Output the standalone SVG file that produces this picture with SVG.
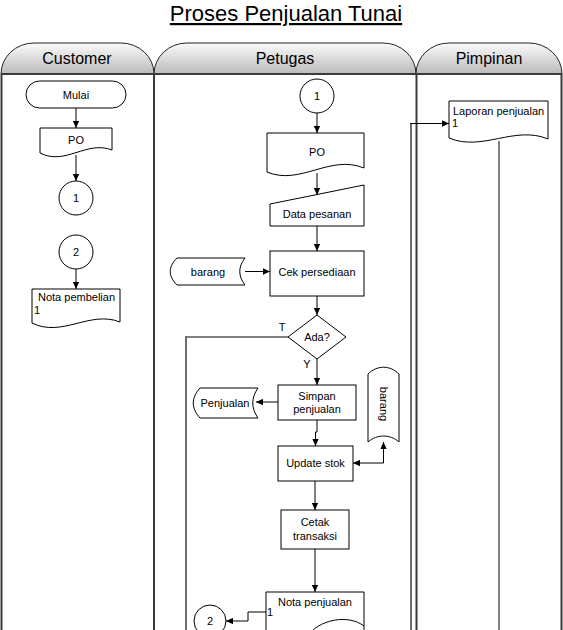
<svg xmlns="http://www.w3.org/2000/svg" width="563" height="630" viewBox="0 0 563 630">
<style>
.t{font-family:"Liberation Sans",Arial,sans-serif;font-size:11px;fill:#000}
.m{text-anchor:middle}
.h{font-family:"Liberation Sans",Arial,sans-serif;font-size:16px;fill:#000;text-anchor:middle}
.sh{fill:#fff;stroke:#000;stroke-width:1}
.c{fill:none;stroke:#000;stroke-width:1}
.long{fill:none;stroke:#6e6e6e;stroke-width:2}
.lane{fill:none;stroke:#3a3a3a;stroke-width:2}
.hd{fill:url(#g);stroke:#222;stroke-width:1}
</style>
<defs>
<linearGradient id="g" x1="0" y1="0" x2="0" y2="1">
<stop offset="0" stop-color="#fbfbfb"/>
<stop offset="1" stop-color="#bababa"/>
</linearGradient>
<marker id="a" viewBox="0 0 10 10" refX="10" refY="5" markerWidth="8" markerHeight="7" markerUnits="userSpaceOnUse" orient="auto-start-reverse">
<path d="M0,0.5 L10,5 L0,9.5 Z" fill="#000"/>
</marker>
</defs>
<rect width="563" height="630" fill="#fff"/>
<text x="286" y="21" class="m" style="font-family:'Liberation Sans',Arial,sans-serif;font-size:22px;text-decoration:underline">Proses Penjualan Tunai</text>

<g id="lanes">
<path class="hd" d="M1,74 A33,31 0 0 1 34,43 H121 A33,31 0 0 1 154,74 Z"/>
<path class="hd" d="M154,74 A33,31 0 0 1 187,43 H383 A33,31 0 0 1 416,74 Z"/>
<path class="hd" d="M416,74 A33,31 0 0 1 449,43 H529 A33,31 0 0 1 562,74 Z"/>
<text x="77" y="64" class="h">Customer</text>
<text x="285" y="64" class="h">Petugas</text>
<text x="489" y="64" class="h">Pimpinan</text>
<path class="lane" d="M1.5,74 V632 M154,74 V632 M416.5,74 V632 M561.5,74 V632 M1,74 H562"/>
</g>

<g id="connectors">
<path class="c" marker-end="url(#a)" d="M76,108 V128"/>
<path class="c" marker-end="url(#a)" d="M76,155 V181"/>
<path class="c" marker-end="url(#a)" d="M76,269 V289"/>
<path class="c" marker-end="url(#a)" d="M317,113 V133"/>
<path class="c" marker-end="url(#a)" d="M317,173 V195"/>
<path class="c" marker-end="url(#a)" d="M317,226 V251"/>
<path class="c" marker-end="url(#a)" d="M245,271.5 H270"/>
<path class="c" marker-end="url(#a)" d="M317,296 V315"/>
<path class="c" d="M288,337 H186"/>
<path class="long" d="M186,336 V632"/>
<path class="c" marker-end="url(#a)" d="M317,359 V385"/>
<path class="c" marker-end="url(#a)" d="M278,402 H256"/>
<path class="c" marker-end="url(#a)" d="M317,420 V432 H315.5 V446"/>
<path class="c" marker-start="url(#a)" marker-end="url(#a)" d="M353,463 H383.5 V442"/>
<path class="c" marker-end="url(#a)" d="M315,481 V510"/>
<path class="c" marker-end="url(#a)" d="M315,549 V592"/>
<path class="c" marker-end="url(#a)" d="M266,612 H248 V621 H226"/>
<path class="long" d="M411,632 V123"/>
<path class="c" marker-end="url(#a)" d="M410,123.5 H449"/>
<path class="c" d="M499,141 V632"/>
</g>

<g id="mulai"><rect class="sh" x="26" y="81" width="100" height="27" rx="13.5"/><text x="76" y="98.5" class="t m">Mulai</text></g>
<g id="po-customer"><path class="sh" d="M40,128 H112 V150 C87,140 65,166 40,153 Z"/><text x="76" y="144" class="t m">PO</text></g>
<g id="con1-customer"><circle class="sh" cx="76" cy="198" r="17"/><text x="76" y="202" class="t m">1</text></g>
<g id="con2-customer"><circle class="sh" cx="76" cy="252" r="17"/><text x="76" y="256" class="t m">2</text></g>
<g id="nota-pembelian"><path class="sh" d="M32,289 H120 V322 C90,310 62,338 32,323 Z"/><text x="38" y="301" class="t">Nota pembelian</text><text x="34" y="314" class="t">1</text></g>

<g id="con1-petugas"><circle class="sh" cx="317" cy="96" r="17"/><text x="317" y="100" class="t m">1</text></g>
<g id="po-petugas"><path class="sh" d="M267,133 H364 V168 C330,154 300,186 267,172 Z"/><text x="317" y="156" class="t m">PO</text></g>
<g id="data-pesanan"><path class="sh" d="M270,204 L364,185 V226 H270 Z"/><text x="317" y="218" class="t m">Data pesanan</text></g>
<g id="barang-1"><path class="sh" d="M177,258 H245 C238,267 238,276 245,285 H177 C168,276 168,267 177,258 Z"/><text x="208" y="275.5" class="t m">barang</text></g>
<g id="cek-persediaan"><rect class="sh" x="270" y="251" width="94" height="45"/><text x="317" y="276" class="t m">Cek persediaan</text></g>
<g id="ada"><path class="sh" d="M317,315 L346,337 L317,359 L288,337 Z"/><text x="317" y="341" class="t m">Ada?</text><text x="282" y="331" class="t m">T</text><text x="307" y="368" class="t m">Y</text></g>
<g id="simpan-penjualan"><rect class="sh" x="278" y="385" width="78" height="35"/><text x="317" y="400" class="t m">Simpan</text><text x="317" y="413" class="t m">penjualan</text></g>
<g id="penjualan"><path class="sh" d="M200,388 H258 C251,398 251,408 258,418 H200 C191,408 191,398 200,388 Z"/><text x="225" y="406.5" class="t m">Penjualan</text></g>
<g id="update-stok"><rect class="sh" x="278" y="446" width="75" height="35"/><text x="315.5" y="467" class="t m">Update stok</text></g>
<g id="barang-2"><path class="sh" d="M368,374 C377,365 390,365 399,374 V442 C390,434 377,434 368,442 Z"/><text x="383.5" y="404" class="t m" transform="rotate(90 383.5 404)" dy="4">barang</text></g>
<g id="cetak-transaksi"><rect class="sh" x="281" y="510" width="68" height="39"/><text x="315" y="526" class="t m">Cetak</text><text x="315" y="540" class="t m">transaksi</text></g>
<g id="nota-penjualan"><path class="sh" d="M266,632 V592 H364 V632"/><path class="c" d="M311,632 C322,620 348,614 364,626"/><text x="315" y="606" class="t m">Nota penjualan</text><text x="267" y="616" class="t">1</text></g>
<g id="con2-petugas"><circle class="sh" cx="210" cy="621" r="16"/><text x="210" y="625" class="t m">2</text></g>

<g id="laporan-penjualan"><path class="sh" d="M449,101 H548 V139 C515,125 482,152 449,138 Z"/><text x="453" y="115" class="t">Laporan penjualan</text><text x="452" y="127" class="t">1</text></g>
</svg>
